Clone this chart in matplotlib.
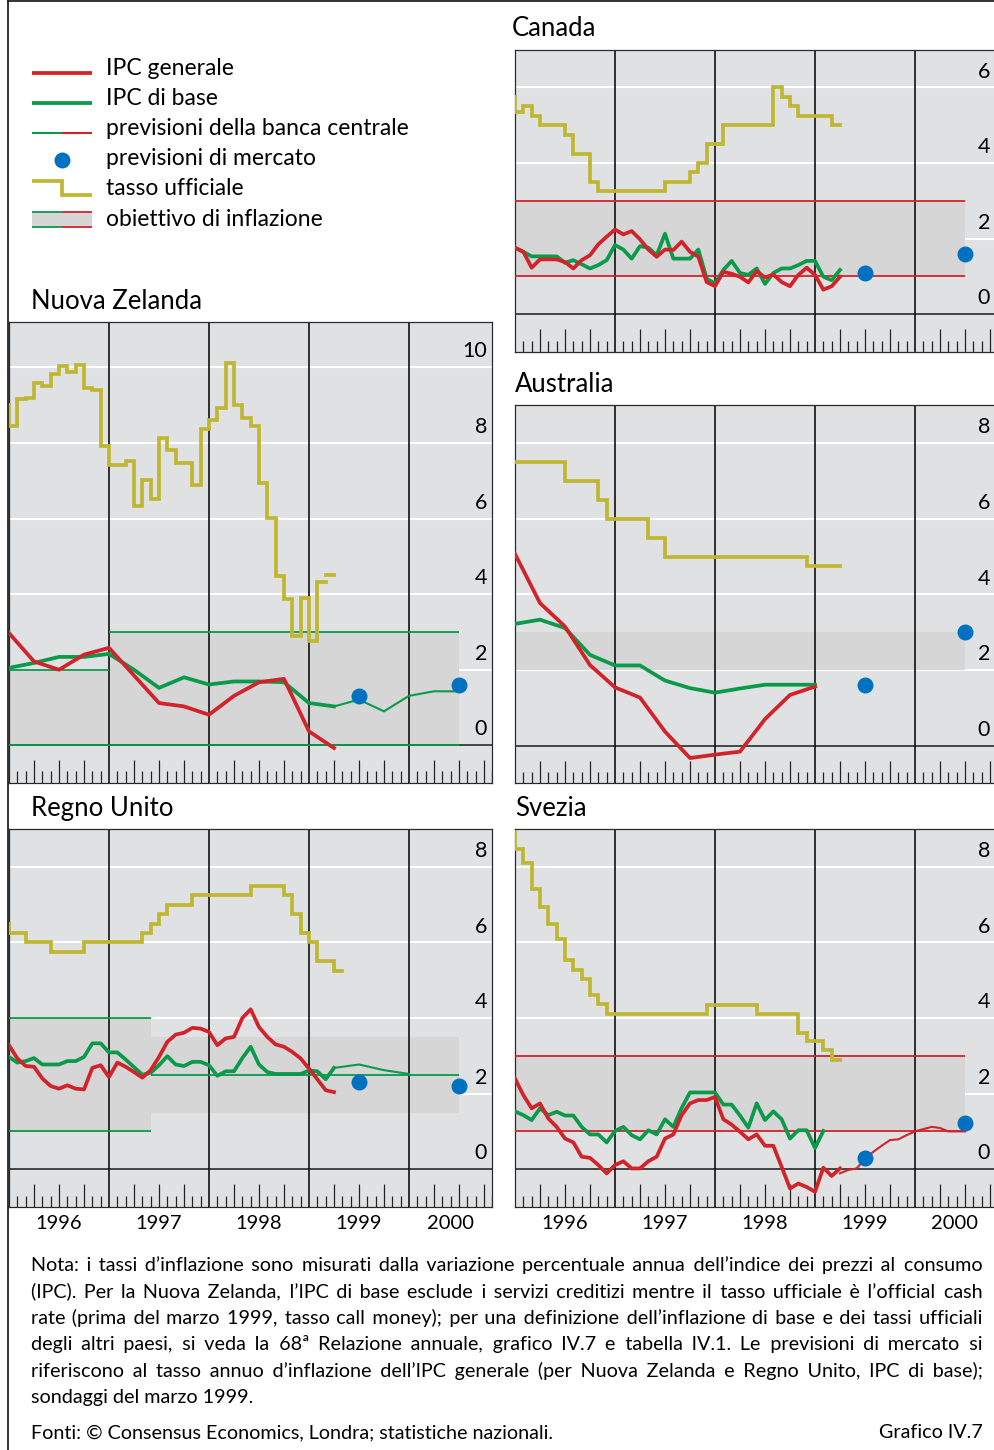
import numpy as np
import pandas as pd
import matplotlib
matplotlib.use("Agg")
import matplotlib.pyplot as plt
from matplotlib.patches import Rectangle
from matplotlib.transforms import blended_transform_factory

plt.rcParams['font.family'] = ['Lato', 'DejaVu Sans']

W, H = 995, 1450
PX_YEAR = 100.0   # pixels per year, same on every panel
PX_UNIT = 37.8    # pixels per percentage point

RED = '#d2232a'
GREEN = '#0b9a4a'
YELLOW = '#bfb734'
BLUE = '#0071c1'
BG = '#e0e1e3'
BAND = '#d6d6d7'
THICK = 2.7
THIN = 1.5

# ---------------------------------------------------------------- data
mkt_dates = ['1999-07-01', '2000-07-01']   # market forecasts for 1999 and 2000

# Nuova Zelanda (rate monthly from Dec 1995, CPI quarterly)
nz_rate_start = '1995-12-01'
nz_rate = [9.01, 8.44, 9.15, 9.18, 9.59, 9.50, 9.83, 10.03, 9.89, 10.07, 9.45, 9.41,
           7.91, 7.43, 7.43, 7.51, 6.32, 7.03, 6.53, 8.13, 7.82, 7.47, 7.47, 6.88,
           8.38, 8.62, 8.92, 10.12, 9.01, 8.66, 8.46, 6.94, 6.01, 4.49, 3.86, 2.88,
           3.90, 2.75, 4.31]
nz_ocr_start = '1999-03-01'
nz_ocr = [4.5, 4.5]
nz_cpi_start = '1996-01-01'
nz_cpi = [2.97, 2.22, 2.00, 2.40, 2.58, 1.85, 1.12, 1.03, 0.81, 1.31, 1.67, 1.76, 0.37, -0.07]
nz_core = [2.05, 2.18, 2.34, 2.34, 2.42, 2.00, 1.52, 1.80, 1.61, 1.69, 1.69, 1.67, 1.12, 1.03]
nz_fc_start = '1999-04-01'
nz_fc = [1.03, 1.21, 0.90, 1.31, 1.43, 1.43]
nz_mkt = [1.30, 1.60]
nz_band_from = ['1996-01-01', '1997-01-01']
nz_band_to = ['1997-01-01', '2000-07-01']
nz_band_lo = [0, 0]
nz_band_hi = [2, 3]

# Canada (monthly)
ca_rate_start = '1995-12-01'
ca_rate = [5.75, 5.35, 5.5, 5.25, 5.0, 5.0, 5.0, 4.75, 4.25, 4.25, 3.5, 3.25,
           3.25, 3.25, 3.25, 3.25, 3.25, 3.25, 3.25, 3.5, 3.5, 3.5, 3.75, 4.0,
           4.5, 4.5, 5.0, 5.0, 5.0, 5.0, 5.0, 5.0, 6.0, 5.75, 5.5, 5.25,
           5.25, 5.25, 5.25, 5.0]
ca_cpi_start = '1996-01-01'
ca_cpi = [1.76, 1.65, 1.23, 1.45, 1.45, 1.45, 1.38, 1.21, 1.43, 1.56, 1.85, 2.05,
          2.24, 2.11, 2.20, 1.98, 1.71, 1.52, 1.71, 1.70, 1.92, 1.65, 1.52, 0.85,
          0.74, 1.12, 1.07, 0.99, 0.84, 1.14, 0.97, 1.05, 0.85, 0.74, 1.04, 1.23,
          1.04, 0.65, 0.74, 0.99]
ca_core = [1.76, 1.65, 1.53, 1.53, 1.53, 1.53, 1.36, 1.43, 1.32, 1.21, 1.30, 1.43,
           1.83, 1.71, 1.47, 1.80, 1.76, 1.56, 2.13, 1.47, 1.47, 1.47, 1.71, 0.94,
           0.81, 1.17, 1.41, 1.09, 1.04, 1.21, 0.80, 1.09, 1.21, 1.21, 1.30, 1.41,
           1.41, 0.99, 0.90, 1.17]
ca_mkt = [1.10, 1.60]
ca_band_from = ['1996-01-01']
ca_band_to = ['2000-07-01']
ca_band_lo = [1]
ca_band_hi = [3]

# Australia (rate monthly, CPI quarterly)
au_rate_start = '1996-01-01'
au_rate = [7.5, 7.5, 7.5, 7.5, 7.5, 7.5, 7.0, 7.0, 7.0, 7.0, 6.5, 6.0,
           6.0, 6.0, 6.0, 6.0, 5.5, 5.5, 5.0, 5.0, 5.0, 5.0, 5.0, 5.0,
           5.0, 5.0, 5.0, 5.0, 5.0, 5.0, 5.0, 5.0, 5.0, 5.0, 5.0, 4.75,
           4.75, 4.75, 4.75]
au_cpi_start = '1996-01-01'
au_cpi = [5.07, 3.77, 3.15, 2.13, 1.54, 1.27, 0.37, -0.33, -0.24, -0.16, 0.70, 1.34, 1.56]
au_core = [3.22, 3.33, 3.11, 2.40, 2.12, 2.12, 1.72, 1.52, 1.40, 1.51, 1.61, 1.61, 1.61]
au_mkt = [1.60, 3.00]
au_band_from = ['1996-01-01']
au_band_to = ['2000-07-01']
au_band_lo = [2]
au_band_hi = [3]

# Regno Unito (monthly)
uk_rate_start = '1995-12-01'
uk_rate = [6.5, 6.25, 6.25, 6.0, 6.0, 6.0, 5.75, 5.75, 5.75, 5.75, 6.0, 6.0,
           6.0, 6.0, 6.0, 6.0, 6.0, 6.25, 6.5, 6.75, 7.0, 7.0, 7.0, 7.25,
           7.25, 7.25, 7.25, 7.25, 7.25, 7.25, 7.5, 7.5, 7.5, 7.5, 7.25, 6.75,
           6.25, 6.0, 5.5, 5.5, 5.25]
uk_cpi_start = '1996-01-01'
uk_cpi = [3.28, 2.93, 2.73, 2.71, 2.40, 2.20, 2.13, 2.22, 2.13, 2.11, 2.68, 2.75,
          2.44, 2.82, 2.71, 2.57, 2.42, 2.62, 2.97, 3.37, 3.56, 3.61, 3.74, 3.72,
          3.63, 3.28, 3.46, 3.50, 4.00, 4.23, 3.76, 3.50, 3.30, 3.24, 3.10, 2.93,
          2.66, 2.38, 2.09, 2.04]
uk_core = [2.97, 2.82, 2.86, 2.94, 2.77, 2.77, 2.77, 2.86, 2.86, 2.97, 3.33, 3.33,
           3.09, 3.09, 2.90, 2.70, 2.50, 2.55, 2.75, 2.99, 2.77, 2.73, 2.84, 2.84,
           2.75, 2.47, 2.59, 2.59, 2.94, 3.24, 2.77, 2.57, 2.52, 2.52, 2.52, 2.52,
           2.61, 2.59, 2.38, 2.68]
uk_fc_start = '1999-04-01'
uk_fc = [2.68, 2.77, 2.62, 2.52]
uk_mkt = [2.30, 2.21]
uk_band_from = ['1996-01-01', '1997-06-01']
uk_band_to = ['1997-06-01', '2000-07-01']
uk_band_lo = [1, 1.5]
uk_band_hi = [4, 3.5]
uk_point_target = 2.5

# Svezia (monthly)
se_rate_start = '1995-12-01'
se_rate = [8.91, 8.48, 8.09, 7.42, 6.94, 6.50, 6.10, 5.53, 5.26, 5.04, 4.60, 4.36,
           4.10, 4.10, 4.10, 4.10, 4.10, 4.10, 4.10, 4.10, 4.10, 4.10, 4.10, 4.10,
           4.35, 4.35, 4.35, 4.35, 4.35, 4.35, 4.10, 4.10, 4.10, 4.10, 4.10, 3.60,
           3.40, 3.40, 3.15, 2.90]
se_cpi_start = '1996-01-01'
se_cpi = [2.40, 1.96, 1.61, 1.74, 1.34, 1.12, 0.81, 0.71, 0.33, 0.30, 0.11, -0.11,
          0.11, 0.21, 0.02, 0.02, 0.21, 0.33, 0.81, 0.92, 1.43, 1.74, 1.83, 1.83,
          1.91, 1.32, 1.18, 0.99, 0.79, 0.92, 0.62, 0.62, 0.06, -0.51, -0.38, -0.47,
          -0.60, 0.04, -0.18, 0.02]
se_core = [1.53, 1.43, 1.30, 1.61, 1.43, 1.52, 1.42, 1.42, 1.12, 0.92, 0.92, 0.71,
           1.01, 1.12, 0.90, 0.79, 1.03, 0.92, 1.32, 1.12, 1.62, 2.03, 2.03, 2.03,
           2.03, 1.71, 1.71, 1.42, 1.10, 1.74, 1.30, 1.53, 1.32, 0.81, 1.03, 1.03,
           0.56, 1.01]
se_fc_start = '1999-04-01'
se_fc = [-0.11, -0.02, 0.02, 0.28, 0.46, 0.62, 0.77, 0.79, 0.90, 1.00, 1.06, 1.12,
         1.09, 1.00, 1.00, 1.00]
se_mkt = [0.30, 1.21]
se_band_from = ['1996-01-01']
se_band_to = ['2000-07-01']
se_band_lo = [1]
se_band_hi = [3]

legend_labels = ['IPC generale', 'IPC di base', 'previsioni della banca centrale',
                 'previsioni di mercato', 'tasso ufficiale', 'obiettivo di inflazione']

note_lines = [
    "Nota: i tassi d’inflazione sono misurati dalla variazione percentuale annua dell’indice dei prezzi al consumo",
    "(IPC). Per la Nuova Zelanda, l’IPC di base esclude i servizi creditizi mentre il tasso ufficiale è l’official cash",
    "rate (prima del marzo 1999, tasso call money); per una definizione dell’inflazione di base e dei tassi ufficiali",
    "degli altri paesi, si veda la 68ª Relazione annuale, grafico IV.7 e tabella IV.1. Le previsioni di mercato si",
    "riferiscono al tasso annuo d’inflazione dell’IPC generale (per Nuova Zelanda e Regno Unito, IPC di base);",
    "sondaggi del marzo 1999.",
]
source_text = "Fonti: © Consensus Economics, Londra; statistiche nazionali."
chart_id = "Grafico IV.7"


# ---------------------------------------------------------------- helpers
def dec(dates):
    d = pd.DatetimeIndex(pd.to_datetime(dates))
    return np.asarray(d.year + (d.month - 1) / 12.0)


def monthly(start, n):
    return dec(pd.date_range(start, periods=n, freq='MS'))


def quarterly(start, n):
    return dec(pd.date_range(start, periods=n, freq='QS'))


def step(ax, start, vals, **kw):
    # last value is held for one month so that it shows as a flat piece
    x = monthly(start, len(vals) + 1)
    ax.plot(x, np.append(vals, vals[-1]), drawstyle='steps-post',
            solid_joinstyle='miter', **kw)


def bands(ax, starts, ends, los, his, edge=None):
    for a, b, lo, hi in zip(dec(starts), dec(ends), los, his):
        ax.fill_between([a, b], lo, hi, color=BAND, lw=0, zorder=1.5)
        if edge:
            ax.hlines([lo, hi], a, b, color=edge, lw=1.3, zorder=2.6)


fig = plt.figure(figsize=(W / 100, H / 100), dpi=100)

# pixel overlay for frame, legend and notes
ov = fig.add_axes([0, 0, 1, 1])
ov.set_xlim(0, W)
ov.set_ylim(H, 0)
ov.axis('off')


def make_panel(left, top, ymin, ymax, xmax, title, title_x, years=False):
    w = (xmax - 1996) * PX_YEAR
    h = (ymax - ymin) * PX_UNIT
    ax = fig.add_axes([left / W, 1 - (top + h) / H, w / W, h / H])
    ax.set_facecolor(BG)
    ax.set_xlim(1996, xmax)
    ax.set_ylim(ymin, ymax)
    ax.set_xticks([])
    ax.set_yticks([])
    for s in ax.spines.values():
        s.set_color('#2a2a2a')
        s.set_linewidth(0.9)
    ax.hlines(np.arange(2, ymax, 2), 1996, xmax, color='white', lw=1.5, zorder=1)
    ax.axhline(0, color='#1a1a1a', lw=1.1, zorder=2.2)
    ax.vlines(np.arange(1997, xmax), ymin, ymax, color='#111111', lw=1.2, zorder=2.4)
    # month ticks in the strip under the zero line
    n = int(round((xmax - 1996) * 12))
    mpos = monthly('1996-01-01', n + 1)
    idx = np.arange(n + 1)
    quart = (idx % 3 == 0) & (idx % 12 != 0)
    mon = idx % 3 != 0
    ax.vlines(mpos[quart], ymin, ymin + 0.6, color='#222222', lw=0.9, zorder=2.4)
    ax.vlines(mpos[mon], ymin, ymin + 0.3, color='#222222', lw=0.9, zorder=2.4)
    tr = blended_transform_factory(ax.transAxes, ax.transData)
    for v in range(0, int(ymax) + 1, 2):
        ax.annotate(str(v), xy=(1, v + 0.42), xycoords=tr, xytext=(-5, 0),
                    textcoords='offset pixels', ha='right', va='center',
                    fontsize=15.5, zorder=7)
    if years:
        for yr in range(1996, 2001):
            xc = min(yr + 0.5, xmax - 0.41)
            ax.annotate(str(yr), xy=(xc, ymin), xytext=(0, -8),
                        textcoords='offset pixels', ha='center', va='top',
                        fontsize=14.5, annotation_clip=False)
    ov.text(title_x, top - 21, title, fontsize=18.5, va='center', ha='left')
    return ax


# ---------------------------------------------------------------- panels
# Canada
ax = make_panel(515, 49.6, -1, 7, 2000.8, 'Canada', 512)
bands(ax, ca_band_from, ca_band_to, ca_band_lo, ca_band_hi, edge=RED)
step(ax, ca_rate_start, ca_rate, color=YELLOW, lw=THICK, zorder=3)
ax.plot(monthly(ca_cpi_start, len(ca_core)), ca_core, color=GREEN, lw=THICK, zorder=4)
ax.plot(monthly(ca_cpi_start, len(ca_cpi)), ca_cpi, color=RED, lw=THICK, zorder=5)
ax.plot(dec(mkt_dates), ca_mkt, 'o', color=BLUE, ms=11.5, mec='none', zorder=6)

# Nuova Zelanda
ax = make_panel(9, 322, -0.99, 11.2, 2000.83, 'Nuova Zelanda', 31)
bands(ax, nz_band_from, nz_band_to, nz_band_lo, nz_band_hi, edge=GREEN)
step(ax, nz_rate_start, nz_rate, color=YELLOW, lw=THICK, zorder=3)
ax.plot(monthly(nz_ocr_start, len(nz_ocr)), nz_ocr, color=YELLOW, lw=THICK, zorder=3)
ax.plot(quarterly(nz_cpi_start, len(nz_core)), nz_core, color=GREEN, lw=THICK, zorder=4)
ax.plot(quarterly(nz_cpi_start, len(nz_cpi)), nz_cpi, color=RED, lw=THICK, zorder=5)
ax.plot(quarterly(nz_fc_start, len(nz_fc)), nz_fc, color=GREEN, lw=THIN, zorder=4)
ax.plot(dec(mkt_dates), nz_mkt, 'o', color=BLUE, ms=11.5, mec='none', zorder=6)

# Australia
ax = make_panel(515, 405, -1, 9.01, 2000.8, 'Australia', 515)
bands(ax, au_band_from, au_band_to, au_band_lo, au_band_hi)
step(ax, au_rate_start, au_rate, color=YELLOW, lw=THICK, zorder=3)
ax.plot(quarterly(au_cpi_start, len(au_core)), au_core, color=GREEN, lw=THICK, zorder=4)
ax.plot(quarterly(au_cpi_start, len(au_cpi)), au_cpi, color=RED, lw=THICK, zorder=5)
ax.plot(dec(mkt_dates), au_mkt, 'o', color=BLUE, ms=11.5, mec='none', zorder=6)

# Regno Unito
ax = make_panel(9, 829, -1, 9, 2000.83, 'Regno Unito', 31, years=True)
bands(ax, uk_band_from[:1], uk_band_to[:1], uk_band_lo[:1], uk_band_hi[:1], edge=GREEN)
bands(ax, uk_band_from[1:], uk_band_to[1:], uk_band_lo[1:], uk_band_hi[1:])
ax.hlines(uk_point_target, dec(uk_band_from[1:])[0], dec(uk_band_to[1:])[0],
          color=GREEN, lw=1.3, zorder=2.6)
step(ax, uk_rate_start, uk_rate, color=YELLOW, lw=THICK, zorder=3)
ax.plot(monthly(uk_cpi_start, len(uk_core)), uk_core, color=GREEN, lw=THICK, zorder=4)
ax.plot(monthly(uk_cpi_start, len(uk_cpi)), uk_cpi, color=RED, lw=THICK, zorder=5)
ax.plot(quarterly(uk_fc_start, len(uk_fc)), uk_fc, color=GREEN, lw=THIN, zorder=4)
ax.plot(dec(mkt_dates), uk_mkt, 'o', color=BLUE, ms=11.5, mec='none', zorder=6)

# Svezia
ax = make_panel(515, 829, -1, 9, 2000.8, 'Svezia', 515, years=True)
bands(ax, se_band_from, se_band_to, se_band_lo, se_band_hi, edge=RED)
step(ax, se_rate_start, se_rate, color=YELLOW, lw=THICK, zorder=3)
ax.plot(monthly(se_cpi_start, len(se_core)), se_core, color=GREEN, lw=THICK, zorder=4)
ax.plot(monthly(se_cpi_start, len(se_cpi)), se_cpi, color=RED, lw=THICK, zorder=5)
ax.plot(monthly(se_fc_start, len(se_fc)), se_fc, color=RED, lw=THIN, zorder=5)
ax.plot(dec(mkt_dates), se_mkt, 'o', color=BLUE, ms=11.5, mec='none', zorder=6)

# ---------------------------------------------------------------- frame + legend
ov.plot([8, 8], [0, H], color='#222222', lw=1.3)
ov.plot([8, W], [0.7, 0.7], color='#222222', lw=1.3)

ov.plot([32, 92], [73, 73], color=RED, lw=THICK, solid_capstyle='butt')
ov.plot([32, 92], [103, 103], color=GREEN, lw=THICK, solid_capstyle='butt')
ov.plot([32, 62], [133, 133], color=GREEN, lw=THIN, solid_capstyle='butt')
ov.plot([62, 92], [133, 133], color=RED, lw=THIN, solid_capstyle='butt')
ov.plot([62], [160], 'o', color=BLUE, ms=11.5, mec='none')
ov.plot([32, 62, 62, 92], [181, 181, 195, 195], color=YELLOW, lw=THICK,
        solid_capstyle='butt', solid_joinstyle='miter')
ov.add_patch(Rectangle((32, 212), 60, 15, color=BAND, lw=0))
for yy in (212, 227):
    ov.plot([32, 62], [yy, yy], color=GREEN, lw=1.3, solid_capstyle='butt')
    ov.plot([62, 92], [yy, yy], color=RED, lw=1.3, solid_capstyle='butt')
for i, lab in enumerate(legend_labels):
    ov.text(106, 68 + 30.2 * i, lab, fontsize=16.5, va='center', ha='left')

# ---------------------------------------------------------------- notes (justified)
# each line is one text object; the word gaps are widened with hair spaces
renderer = fig.canvas.get_renderer()
x0, x1 = 31, 983
NOTE_SIZE = 14.2
HAIR = '\u200a'


def text_width(s):
    t = ov.text(0, 0, s, fontsize=NOTE_SIZE)
    w = t.get_window_extent(renderer).width
    t.remove()
    return w


hair_w = (text_width('x' + HAIR * 40 + 'x') - text_width('xx')) / 40
for i, line in enumerate(note_lines):
    yy = 1271 + 26.4 * i      # baseline of each note line
    if i < len(note_lines) - 1 and hair_w > 0:
        words = line.split(' ')
        gaps = len(words) - 1
        extra = int(round((x1 - x0 - text_width(line)) / hair_w))
        extra = max(extra, 0)
        out = words[0]
        for g in range(gaps):
            k = (g + 1) * extra // gaps - g * extra // gaps
            out += ' ' + HAIR * k + words[g + 1]
        line = out
    ov.text(x0, yy, line, fontsize=NOTE_SIZE, va='baseline', ha='left')

ov.text(x0, 1438, source_text, fontsize=NOTE_SIZE, va='baseline', ha='left')
ov.text(x1, 1438, chart_id, fontsize=NOTE_SIZE, va='baseline', ha='right')

fig.savefig('out.png', dpi=100)
